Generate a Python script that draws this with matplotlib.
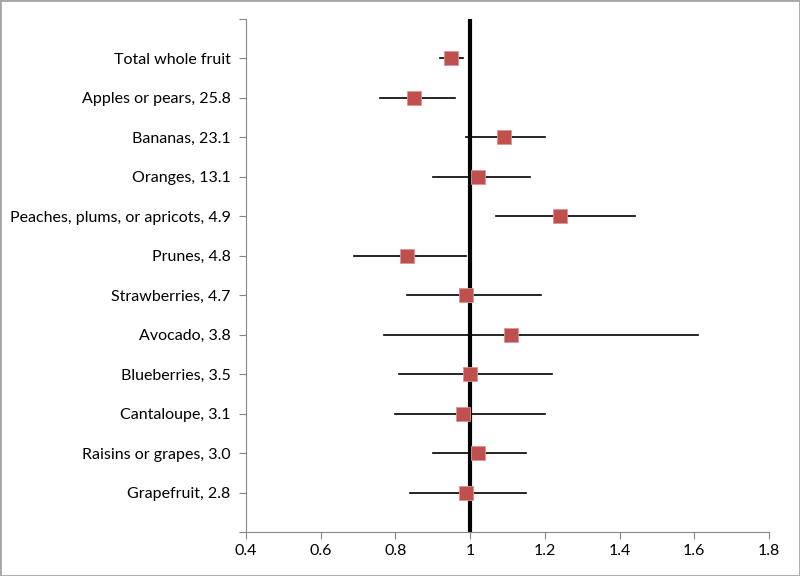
"""
Forest plot of fruit relative risk
"""
import matplotlib
matplotlib.use('Agg')
import matplotlib.pyplot as plt
from matplotlib.patches import Rectangle
from matplotlib.ticker import FuncFormatter

labels = ['Total whole fruit', 'Apples or pears, 25.8', 'Bananas, 23.1',
          'Oranges, 13.1', 'Peaches, plums, or apricots, 4.9', 'Prunes, 4.8',
          'Strawberries, 4.7', 'Avocado, 3.8', 'Blueberries, 3.5',
          'Cantaloupe, 3.1', 'Raisins or grapes, 3.0', 'Grapefruit, 2.8']
estimate = [0.95, 0.85, 1.09, 1.02, 1.24, 0.83, 0.99, 1.11, 1.00, 0.98, 1.02, 0.99]
lower = [0.92, 0.76, 0.99, 0.90, 1.07, 0.69, 0.83, 0.77, 0.81, 0.80, 0.90, 0.84]
upper = [0.98, 0.96, 1.20, 1.16, 1.44, 0.99, 1.19, 1.61, 1.22, 1.20, 1.15, 1.15]

plt.rcParams['font.family'] = ['Lato', 'DejaVu Sans']

fig = plt.figure(figsize=(8, 5.76), dpi=100)
ax = fig.add_axes([0.3075, 0.0764, 0.6538, 0.8906])

n = len(labels)
ypos = [n - i for i in range(n)]

ax.axvline(1, color='black', lw=3, zorder=2)
for y, lo, hi in zip(ypos, lower, upper):
    ax.plot([lo, hi], [y, y], color='black', lw=1.2, zorder=3)
ax.plot(estimate, ypos, 's', color='#C0504D', markeredgecolor='#D99694',
        markeredgewidth=0.6, markersize=10.5, zorder=4, linestyle='none')

ax.set_xlim(0.4, 1.8)
ax.set_ylim(0, n + 1)
ax.set_xticks([0.4, 0.6, 0.8, 1.0, 1.2, 1.4, 1.6, 1.8])
ax.xaxis.set_major_formatter(FuncFormatter(lambda v, p: '{:g}'.format(round(v, 2))))
ax.set_yticks(range(0, n + 2))
ax.set_yticklabels([''] + labels[::-1] + [''])

for side in ['top', 'right']:
    ax.spines[side].set_visible(False)
for side in ['left', 'bottom']:
    ax.spines[side].set_color('#868686')
ax.tick_params(axis='both', colors='#868686', length=5, labelsize=11.5,
               labelcolor='black')
ax.tick_params(axis='y', pad=6)

fig.patches.append(Rectangle((0, 0), 1, 1, transform=fig.transFigure,
                             fill=False, edgecolor='#A6A6A6', lw=2))

fig.savefig('out.png', dpi=100)
